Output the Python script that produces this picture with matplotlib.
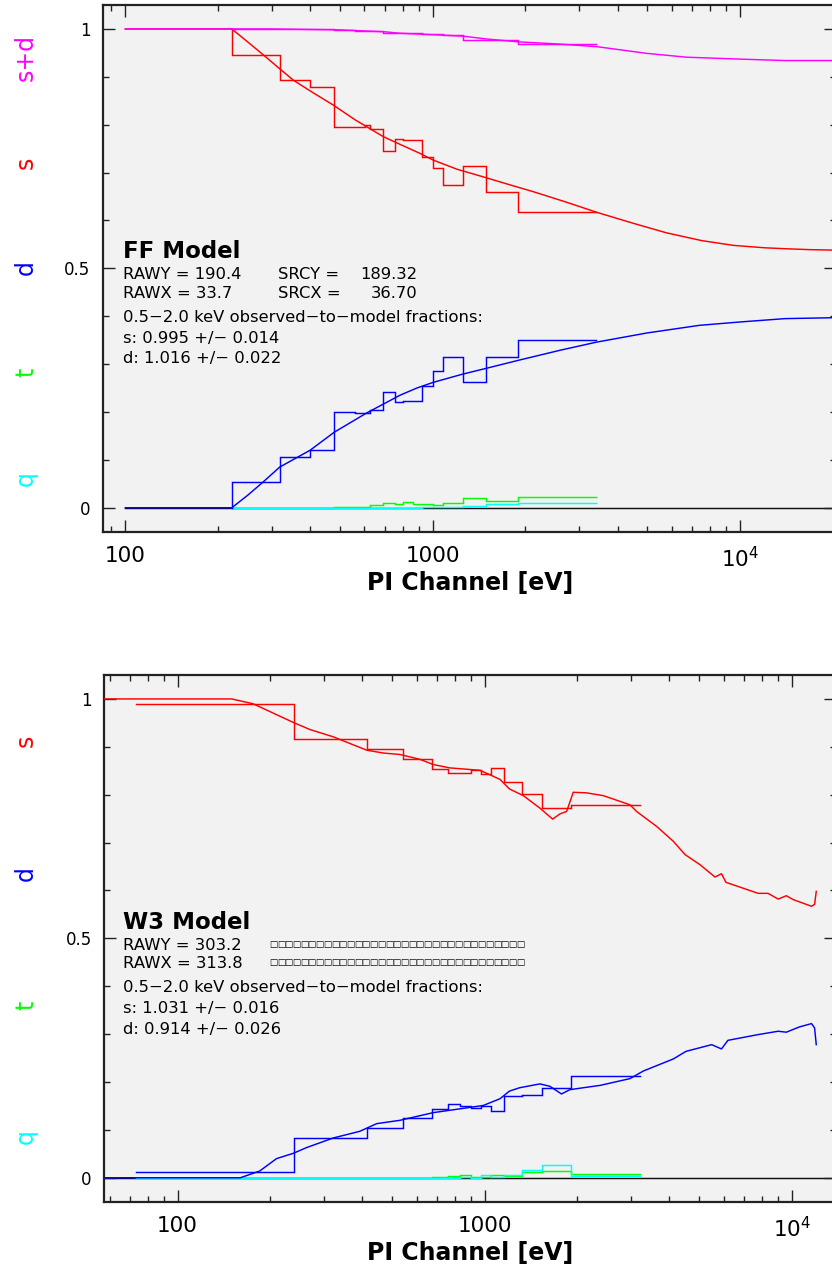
import numpy as np
import matplotlib
matplotlib.use("Agg")
import matplotlib.pyplot as plt
from matplotlib.ticker import FixedLocator, FixedFormatter, NullFormatter

# ---------------- FF panel data ----------------
FF_EDGES = [222, 318, 399, 479, 558, 603, 625, 691, 755, 803, 865, 921, 1000, 1084, 1251, 1490, 1902, 3405]
FF_S_DATA = [0.946, 0.893, 0.879, 0.796, 0.796, 0.800, 0.790, 0.746, 0.771, 0.769, 0.769, 0.733, 0.709, 0.675, 0.714, 0.660, 0.617]
FF_D_DATA = [0.054, 0.106, 0.121, 0.200, 0.198, 0.198, 0.205, 0.242, 0.221, 0.222, 0.222, 0.254, 0.286, 0.314, 0.263, 0.315, 0.350]
FF_SD_DATA = [1.000, 1.000, 0.999, 0.997, 0.996, 0.996, 0.995, 0.992, 0.992, 0.991, 0.991, 0.990, 0.990, 0.988, 0.977, 0.977, 0.968]
FF_T_DATA = [0.0, 0.0, 0.0, 0.002, 0.002, 0.002, 0.005, 0.010, 0.008, 0.011, 0.007, 0.008, 0.005, 0.009, 0.020, 0.015, 0.023]
FF_Q_DATA = [0.0, 0.0, 0.0, 0.0, 0.0, 0.0, 0.0, 0.0, 0.0, 0.0, 0.0, 0.001, 0.001, 0.001, 0.003, 0.007, 0.009]

FF_S_MODEL_E = [100, 222, 250, 281, 315, 352, 410, 475, 560, 691, 783, 910, 1005, 1200, 1462, 1750, 2128,
                2700, 3420, 4500, 5780, 7500, 9510, 12000, 14000, 17000, 20500]
FF_S_MODEL = [1.0, 1.0, 0.973, 0.946, 0.919, 0.893, 0.866, 0.841, 0.810, 0.775, 0.759, 0.740, 0.726, 0.707,
              0.691, 0.676, 0.660, 0.639, 0.617, 0.594, 0.574, 0.558, 0.548, 0.543, 0.541, 0.539, 0.538]
FF_D_MODEL_E = [100, 222, 250, 281, 318, 399, 479, 610, 783, 888, 1005, 1251, 1490, 1902, 2600, 3420, 4977,
                7380, 10000, 14000, 20500]
FF_D_MODEL = [0.0, 0.0, 0.026, 0.054, 0.085, 0.120, 0.158, 0.198, 0.235, 0.250, 0.262, 0.279, 0.291, 0.308,
              0.329, 0.346, 0.365, 0.381, 0.388, 0.395, 0.397]
FF_SD_MODEL_E = [100, 300, 500, 700, 783, 1000, 1251, 1500, 1902, 2500, 3420, 4977, 6700, 10000, 14000, 20500]
FF_SD_MODEL = [1.0, 1.0, 0.998, 0.994, 0.991, 0.988, 0.985, 0.979, 0.973, 0.969, 0.963, 0.949, 0.941, 0.937, 0.934, 0.934]
FF_ZERO_E = [100, 20500]
FF_ZERO = [0.0, 0.0]

# ---------------- W3 panel data ----------------
W3_EDGES = [73, 239, 413, 543, 672, 761, 830, 902, 970, 1050, 1160, 1322, 1534, 1914, 3206]
W3_S_DATA = [0.990, 0.917, 0.896, 0.875, 0.854, 0.846, 0.846, 0.851, 0.843, 0.856, 0.826, 0.802, 0.772, 0.779]
W3_D_DATA = [0.012, 0.083, 0.104, 0.125, 0.143, 0.154, 0.149, 0.146, 0.150, 0.140, 0.170, 0.173, 0.188, 0.212]
W3_T_DATA = [0.0, 0.0, 0.0, 0.0, 0.001, 0.003, 0.005, 0.001, 0.001, 0.005, 0.004, 0.012, 0.014, 0.008]
W3_Q_DATA = [0.0, 0.0, 0.0, 0.0, 0.0, 0.0, 0.002, 0.0, 0.005, 0.001, 0.005, 0.016, 0.026, 0.003]

W3_S_MODEL_E = [50, 150, 176, 238, 270, 321, 413, 468, 530, 615, 680, 770, 966, 1122, 1205, 1337, 1514,
                1665, 1760, 1850, 1944, 2140, 2437, 2973, 3126, 3630, 4113, 4495, 5026, 5630, 5910, 6110,
                7780, 8380, 9040, 9610, 10110, 11610, 11880, 12030]
W3_S_MODEL = [1.0, 1.0, 0.990, 0.951, 0.936, 0.921, 0.893, 0.887, 0.884, 0.874, 0.863, 0.856, 0.851, 0.832,
              0.812, 0.798, 0.772, 0.749, 0.760, 0.765, 0.805, 0.804, 0.798, 0.779, 0.765, 0.734, 0.703,
              0.675, 0.654, 0.628, 0.635, 0.617, 0.594, 0.594, 0.582, 0.589, 0.581, 0.567, 0.571, 0.598]
W3_D_MODEL_E = [50, 160, 185, 210, 238, 263, 321, 392, 445, 530, 680, 875, 990, 1122, 1205, 1300, 1514,
                1632, 1780, 1895, 2380, 2973, 3290, 4113, 4530, 5490, 5910, 6200, 7780, 9040, 9610,
                10600, 11610, 11880, 12030]
W3_D_MODEL = [0.0, 0.0, 0.014, 0.040, 0.051, 0.063, 0.083, 0.097, 0.113, 0.120, 0.136, 0.146, 0.151, 0.165,
              0.181, 0.188, 0.196, 0.191, 0.175, 0.184, 0.193, 0.207, 0.223, 0.248, 0.264, 0.278, 0.269,
              0.287, 0.299, 0.306, 0.304, 0.315, 0.322, 0.313, 0.278]
W3_ZERO_E = [50, 14000]
W3_ZERO = [0.0, 0.0]

XTICKS = [100, 1000, 10000]
XTICK_LABELS = ["100", "1000", r"$10^4$"]
YTICKS = [0, 0.5, 1]
YTICK_LABELS = ["0", "0.5", "1"]
N_BOXES = 33

MAG, RED, BLUE, GREEN, CYAN = "#ff00ff", "#ff0000", "#0000ff", "#00ff00", "#00ffff"
LW = 1.05

W, H = 832, 1269
fig = plt.figure(figsize=(W / 100, H / 100), dpi=100)
fig.patch.set_facecolor("white")


def px(x, y):
    return x / W, 1 - y / H


def hist(ax, edges, vals, color, start=None, z=3):
    s = vals[0] if start is None else start
    x = [edges[0]] + list(edges)
    y = [s] + list(vals) + [vals[-1]]
    ax.step(x, y, where="post", color=color, lw=LW, zorder=z, solid_joinstyle="miter")


def style(ax, xlim):
    ax.set_facecolor("#f2f2f2")
    ax.set_xscale("log")
    ax.set_xlim(*xlim)
    ax.set_ylim(-0.05, 1.05)
    ax.xaxis.set_major_locator(FixedLocator(XTICKS))
    ax.xaxis.set_major_formatter(FixedFormatter(XTICK_LABELS))
    minors = [m * 10 ** k for k in range(1, 5) for m in range(2, 10)]
    ax.xaxis.set_minor_locator(FixedLocator(minors))
    ax.xaxis.set_minor_formatter(NullFormatter())
    ax.yaxis.set_major_locator(FixedLocator(YTICKS))
    ax.yaxis.set_major_formatter(FixedFormatter(YTICK_LABELS))
    ax.yaxis.set_minor_locator(FixedLocator([0.1, 0.2, 0.3, 0.4, 0.6, 0.7, 0.8, 0.9]))
    ax.tick_params(which="both", direction="in", top=True, right=True, color="#222222")
    ax.tick_params(which="major", length=8.5, width=1.0)
    ax.tick_params(which="minor", length=4.5, width=1.0)
    ax.tick_params(axis="x", which="major", labelsize=15.5, pad=10)
    ax.tick_params(axis="y", which="major", labelsize=12, pad=9)
    for sp in ax.spines.values():
        sp.set_linewidth(1.6)
        sp.set_color("#222222")


# ---------------- top panel ----------------
ax1 = fig.add_axes([103 / W, 1 - 531.7 / H, (836 - 103) / W, 526.7 / H])
style(ax1, (84.6, 20530))
ax1.plot(FF_ZERO_E, FF_ZERO, color="#111111", lw=LW, zorder=1)
hist(ax1, FF_EDGES, FF_T_DATA, GREEN, z=2)
hist(ax1, FF_EDGES, FF_Q_DATA, CYAN, z=2.5)
ax1.plot(FF_D_MODEL_E, FF_D_MODEL, color=BLUE, lw=LW, zorder=3)
hist(ax1, FF_EDGES, FF_D_DATA, BLUE, start=0.0, z=3)
ax1.plot(FF_S_MODEL_E, FF_S_MODEL, color=RED, lw=LW, zorder=3)
hist(ax1, FF_EDGES, FF_S_DATA, RED, start=1.0, z=3)
hist(ax1, FF_EDGES, FF_SD_DATA, MAG, z=3)
ax1.plot(FF_SD_MODEL_E, FF_SD_MODEL, color=MAG, lw=LW, zorder=4)

# ---------------- bottom panel ----------------
ax2 = fig.add_axes([104.3 / W, 1 - 1201.7 / H, (836 - 104.3) / W, 526.7 / H])
style(ax2, (57.7, 13950))
ax2.plot(W3_ZERO_E, W3_ZERO, color="#111111", lw=LW, zorder=1)
hist(ax2, W3_EDGES, W3_T_DATA, GREEN, z=2)
hist(ax2, W3_EDGES, W3_Q_DATA, CYAN, z=2.5)
ax2.plot(W3_D_MODEL_E, W3_D_MODEL, color=BLUE, lw=LW, zorder=3)
hist(ax2, W3_EDGES, W3_D_DATA, BLUE, z=3)
ax2.plot(W3_S_MODEL_E, W3_S_MODEL, color=RED, lw=LW, zorder=3)
hist(ax2, W3_EDGES, W3_S_DATA, RED, z=3)

# ---------------- side labels ----------------
side_top = [("s+d", MAG, 57.5), ("s", RED, 163.3), ("d", BLUE, 267.5), ("t", GREEN, 372.5), ("q", CYAN, 478.8)]
side_bot = [("s", RED, 741.2), ("d", BLUE, 873.3), ("t", GREEN, 1005), ("q", CYAN, 1136.7)]
for lab, col, yy in side_top + side_bot:
    fig.text(*px(33, yy), lab, color=col, fontsize=17, rotation=90,
             rotation_mode="anchor", ha="center", va="baseline")

# ---------------- x labels ----------------
fig.text(*px(470, 590), "PI Channel [eV]", fontsize=17, fontweight="bold", ha="center", va="baseline")
fig.text(*px(470, 1260), "PI Channel [eV]", fontsize=17, fontweight="bold", ha="center", va="baseline")

# ---------------- annotation blocks ----------------
M = "\u2212"
fs = 11.8
fig.text(*px(123, 258), "FF Model", fontsize=16.5, fontweight="bold", va="baseline")
fig.text(*px(123, 279.3), "RAWY = 190.4", fontsize=fs, va="baseline")
fig.text(*px(123, 298.3), "RAWX = 33.7", fontsize=fs, va="baseline")
fig.text(*px(277.7, 279.3), "SRCY =", fontsize=fs, va="baseline")
fig.text(*px(277.7, 298.3), "SRCX =", fontsize=fs, va="baseline")
fig.text(*px(417, 279.3), "189.32", fontsize=fs, va="baseline", ha="right")
fig.text(*px(417, 298.3), "36.70", fontsize=fs, va="baseline", ha="right")
fig.text(*px(123, 321.7), f"0.5{M}2.0 keV observed{M}to{M}model fractions:", fontsize=fs, va="baseline")
fig.text(*px(123, 342.7), f"s: 0.995 +/{M} 0.014", fontsize=fs, va="baseline")
fig.text(*px(123, 363.3), f"d: 1.016 +/{M} 0.022", fontsize=fs, va="baseline")

fig.text(*px(123, 929.3), "W3 Model", fontsize=16.5, fontweight="bold", va="baseline")
fig.text(*px(123, 950), "RAWY = 303.2", fontsize=fs, va="baseline")
fig.text(*px(123, 968.3), "RAWX = 313.8", fontsize=fs, va="baseline")
x0, x1 = 269.3, 524.0
step = (x1 - x0) / N_BOXES
for yy in (944, 962.5):
    for i in range(N_BOXES):
        fig.text(*px(x0 + (i + 0.5) * step, yy), "\u25a1", fontsize=6.3, fontweight="bold",
                 ha="center", va="center", family="DejaVu Sans")
fig.text(*px(123, 991.7), f"0.5{M}2.0 keV observed{M}to{M}model fractions:", fontsize=fs, va="baseline")
fig.text(*px(123, 1013.3), f"s: 1.031 +/{M} 0.016", fontsize=fs, va="baseline")
fig.text(*px(123, 1034), f"d: 0.914 +/{M} 0.026", fontsize=fs, va="baseline")

fig.savefig("out.png", dpi=100, facecolor="white")
